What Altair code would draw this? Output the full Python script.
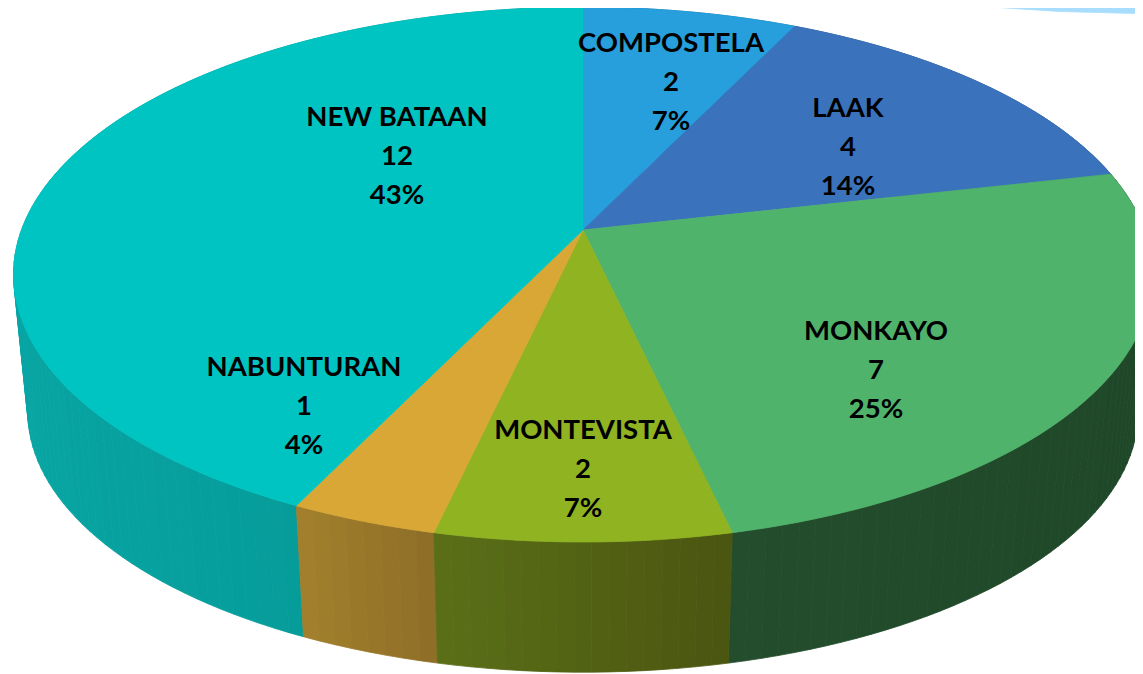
import numpy as np
import altair as alt

NAMES = ["COMPOSTELA", "LAAK", "MONKAYO", "MONTEVISTA", "NABUNTURAN", "NEW BATAAN"]
VALUES = [2, 4, 7, 2, 1, 12]
PERCENTS = ["7%", "14%", "25%", "7%", "4%", "43%"]
TOP_COLORS = ["#269FDC", "#3A72BC", "#50B36B", "#8FB321", "#D8A735", "#00C4C1"]
SIDE_LEFT = ["#1B6F9A", "#264E80", "#234D2D", "#5A6F17", "#A2802C", "#08A5A3"]
SIDE_RIGHT = ["#1B6F9A", "#264E80", "#1F4829", "#4B5510", "#8E6E27", "#039391"]
LABEL_X = [671, 848, 876, 583, 304, 397]
LABEL_Y = [44, 109, 332, 431, 368, 118]
STRIPE_X = [917, 960, 1006, 1060, 1143, 1143]
STRIPE_Y = [0, 4, 8, 11.5, 13.7, 0]

CX, TOP_Y, BOT_Y = 583.0, 230.0, 368.0
AX, AY, PERSP, BOT_SCALE = 561.5, 260.0, 1 / 6, 0.975
LINE_GAP = 39


def rim(theta, bottom=False):
    u, v = np.sin(theta), np.cos(theta)
    d = 1 + PERSP * v
    s = BOT_SCALE if bottom else 1.0
    y0 = BOT_Y if bottom else TOP_Y
    return [float(CX + s * AX * u / d), float(y0 - s * AY * v / d)]


def feature(points, color):
    ring = [list(p) for p in points] + [list(points[0])]
    return {
        "type": "Feature",
        "properties": {"fill": color},
        "geometry": {"type": "Polygon", "coordinates": [ring]},
    }


def mix(c1, c2, t):
    a = [int(c1[i:i + 2], 16) for i in (1, 3, 5)]
    b = [int(c2[i:i + 2], 16) for i in (1, 3, 5)]
    return "#%02x%02x%02x" % tuple(round(x + (y - x) * t) for x, y in zip(a, b))


total = sum(VALUES)
edges = np.concatenate([[0], np.cumsum(VALUES)]) / total * 2 * np.pi

features = [feature(list(zip(STRIPE_X, STRIPE_Y)), "#A9DDFD")]

strips = []
for i in range(len(VALUES)):
    a0, a1 = edges[i], edges[i + 1]
    n = max(4, int((a1 - a0) / np.radians(1.5)))
    th = np.linspace(a0, a1, n + 1)
    xs = [rim(t)[0] for t in th]
    lo, hi = min(xs), max(xs)
    for j in range(n):
        mid = (xs[j] + xs[j + 1]) / 2
        frac = (mid - lo) / max(hi - lo, 1)
        col = mix(SIDE_LEFT[i], SIDE_RIGHT[i], frac)
        quad = [rim(th[j]), rim(th[j + 1]), rim(th[j + 1], True), rim(th[j], True)]
        strips.append((np.cos((th[j] + th[j + 1]) / 2), quad, col))
strips.sort(key=lambda s: -s[0])
features += [feature(q, c) for _, q, c in strips]

for i in range(len(VALUES)):
    th = np.linspace(edges[i], edges[i + 1], 120)
    features.append(feature([[CX, TOP_Y]] + [rim(t) for t in th], TOP_COLORS[i]))

projection = alt.Projection(type="identity", scale=1, translate=[-8, -8])

shapes = (
    alt.Chart(alt.InlineData(
        values={"type": "FeatureCollection", "features": features},
        format=alt.DataFormat(property="features", type="json"),
    ))
    .mark_geoshape(strokeWidth=0.8)
    .encode(
        color=alt.Color("properties.fill:N", scale=None),
        stroke=alt.Stroke("properties.fill:N", scale=None),
    )
)

rows = []
for i, name in enumerate(NAMES):
    for k, line in enumerate([name, str(VALUES[i]), PERCENTS[i]]):
        rows.append({"text": line, "lon": LABEL_X[i], "lat": LABEL_Y[i] + k * LINE_GAP})

labels = (
    alt.Chart(alt.Data(values=rows))
    .mark_text(font="Lato", fontWeight="bold", fontSize=27.5, color="#000000", baseline="middle", align="center")
    .encode(longitude="lon:Q", latitude="lat:Q", text="text:N")
)

chart = (
    alt.layer(shapes, labels)
    .properties(width=1127, height=666, padding=0, autosize=alt.AutoSizeParams(type="none"),
                background="white", projection=projection)
    .configure_view(stroke=None)
)

chart.save("out.html", embed_options={"renderer": "svg", "actions": False})
